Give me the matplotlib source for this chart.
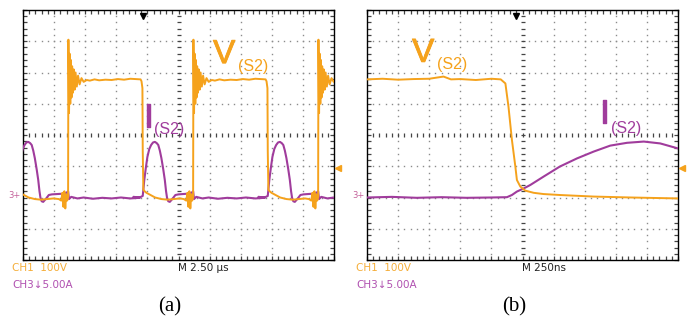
import numpy as np
import matplotlib
matplotlib.use("Agg")
import matplotlib.pyplot as plt
import matplotlib.patheffects as pe

# scope traces, units = screen divisions (x: 0..10, y: 0..8)
ORANGE = '#F5A21C'
PURPLE = '#A03C9C'

# panel (a): switching edges
a_rise = [1.45, 5.47, 9.49]
a_fall = [-0.22, 3.85, 7.87]

# V(S2) around a rising edge (ringing), relative to the edge
ring_dt = [0.0, 0.01, 0.03, 0.05, 0.07, 0.09, 0.11, 0.13, 0.15, 0.18, 0.21, 0.24, 0.28, 0.32, 0.37, 0.43, 0.5, 0.6]
ring_v = [2.0, 7.05, 4.7, 6.6, 5.0, 6.4, 5.2, 6.2, 5.35, 6.1, 5.45, 6.0, 5.55, 5.9, 5.62, 5.82, 5.7, 5.76]
# plateau, relative to rising edge
plat_dt = [0.7, 0.85, 1.0, 1.2, 1.4, 1.6, 1.8, 2.0, 2.2, 2.33]
plat_v = [5.74, 5.78, 5.75, 5.77, 5.76, 5.79, 5.77, 5.8, 5.79, 5.78]
# falling edge and low level, relative to falling edge
vfall_dt = [-0.04, -0.01, 0.0, 0.02, 0.06, 0.12, 0.25, 0.4, 0.6, 0.8, 1.0, 1.2]
vfall_v = [5.72, 5.5, 3.5, 2.25, 2.2, 2.15, 2.08, 2.0, 1.95, 1.93, 1.95, 1.97]
# ringing just before a rising edge
pre_dt = [-0.3, -0.22, -0.18, -0.15, -0.12, -0.09, -0.06, -0.03]
pre_v = [1.95, 1.9, 2.15, 1.7, 2.2, 1.65, 2.1, 1.9]

# I(S2) hump after a falling edge
hump_dt = [-0.3, -0.1, 0.0, 0.05, 0.1, 0.15, 0.21, 0.27, 0.33, 0.39, 0.45, 0.5, 0.55,
           0.6, 0.66, 0.71, 0.75, 0.78, 0.82, 0.87, 0.95, 1.05, 1.15]
hump_v = [2.02, 2.0, 2.05, 2.56, 2.95, 3.3, 3.55, 3.68, 3.76, 3.78, 3.74, 3.68, 3.5,
          3.26, 2.9, 2.56, 2.2, 2.0, 1.88, 1.86, 1.95, 2.08, 2.1]
# I(S2) baseline around a rising edge and through the on-time
ibase_dt = [-0.2, -0.05, 0.0, 0.03, 0.1, 0.3, 0.5, 0.8, 1.1, 1.4, 1.7, 2.0, 2.3]
ibase_v = [2.12, 2.15, 2.2, 1.95, 2.02, 1.97, 2.0, 1.96, 1.99, 1.97, 2.0, 1.97, 1.99]

# panel (b): turn-off edge, zoomed in
b_t = [0, 0.5, 1.0, 1.5, 2.0, 2.46, 2.7, 3.0, 3.5, 4.0, 4.3, 4.45, 4.55, 4.66, 4.77,
       4.82, 4.93, 5.09, 5.36, 5.68, 6.2, 7.29, 8.5, 10.0]
b_v = [5.78, 5.8, 5.77, 5.79, 5.8, 5.87, 5.78, 5.79, 5.76, 5.8, 5.78, 5.65, 4.9, 3.84, 2.99,
       2.56, 2.35, 2.22, 2.15, 2.11, 2.08, 2.03, 2.0, 1.97]
b_it = [0, 0.8, 1.6, 2.4, 3.2, 4.0, 4.5, 4.66, 4.82, 5.04, 5.25, 5.68, 6.2, 6.75, 7.29,
        7.82, 8.36, 8.9, 9.43, 10.0]
b_i = [2.0, 2.02, 1.99, 2.01, 1.99, 2.0, 2.01, 2.08, 2.19, 2.29, 2.4, 2.67, 2.99, 3.25, 3.47,
       3.66, 3.75, 3.79, 3.73, 3.57]


def trace_a_voltage():
    xs, ys = [], []
    for f, r in zip(a_fall, a_rise):
        xs += [f + d for d in vfall_dt]; ys += vfall_v
        xs += [r + d for d in pre_dt]; ys += pre_v
        xs += [r + d for d in ring_dt]; ys += ring_v
        xs += [r + d for d in plat_dt]; ys += plat_v
    return xs, ys


def trace_a_current():
    xs, ys = [], []
    for f, r in zip(a_fall, a_rise):
        xs += [f + d for d in hump_dt]; ys += hump_v
        xs += [r + d for d in ibase_dt]; ys += ibase_v
    return xs, ys


def scope_frame(ax, trig_x):
    ax.set_xlim(0, 10)
    ax.set_ylim(0, 8)
    ax.set_xticks([]); ax.set_yticks([])
    for s in ax.spines.values():
        s.set_linewidth(1.0)
        s.set_color('black')
    fine = np.arange(0, 10.01, 0.2)
    fine_y = np.arange(0, 8.01, 0.2)
    dot = dict(ls='none', marker='s', ms=1.0, mew=0, color='#8c8c8c', zorder=1)
    for y in range(1, 8):
        if y != 4:
            ax.plot(fine, [y] * len(fine), **dot)
    for x in range(1, 10):
        if x != 5:
            ax.plot([x] * len(fine_y), fine_y, **dot)
    tick = dict(ls='none', color='#444444', mew=0.9, zorder=1)
    ax.plot(fine, [4] * len(fine), marker='|', ms=3, **tick)
    ax.plot([5] * len(fine_y), fine_y, marker='_', ms=3, **tick)
    ax.plot(fine, [0.05] * len(fine), marker='|', ms=3, clip_on=False, **tick)
    ax.plot(fine, [7.95] * len(fine), marker='|', ms=3, clip_on=False, **tick)
    ax.plot([0.05] * len(fine_y), fine_y, marker='_', ms=3, clip_on=False, **tick)
    ax.plot([9.95] * len(fine_y), fine_y, marker='_', ms=3, clip_on=False, **tick)
    # trigger position / level markers
    ax.plot([trig_x], [7.8], marker='v', ms=5, color='black', clip_on=False, zorder=5)
    ax.plot([10.12], [2.96], marker='<', ms=4.5, color=ORANGE, clip_on=False, zorder=5)
    ax.text(-0.08, 2.08, '3+', color='#C4609A', fontsize=6, ha='right', va='center',
            family=['Liberation Sans Narrow', 'DejaVu Sans'])


fig = plt.figure(figsize=(6.88, 3.22), dpi=100)
W, H = 688, 322
ax_a = fig.add_axes([23 / W, 62 / H, 311 / W, 250 / H])
ax_b = fig.add_axes([367 / W, 62 / H, 311 / W, 250 / H])

scope_frame(ax_a, 3.86)
scope_frame(ax_b, 4.79)

vx, vy = trace_a_voltage()
ix, iy = trace_a_current()
ax_a.plot(ix, iy, color=PURPLE, lw=1.5, zorder=3)
ax_a.plot(vx, vy, color=ORANGE, lw=1.4, zorder=4)

ax_b.plot(b_it, b_i, color=PURPLE, lw=1.5, zorder=3)
ax_b.plot(b_t, b_v, color=ORANGE, lw=1.4, zorder=4)


def label(ax, x, y, s, color, size, stroke):
    t = ax.text(x, y, s, color=color, fontsize=size, va='baseline', ha='left',
                family=['Liberation Sans', 'DejaVu Sans'])
    if stroke:
        t.set_path_effects([pe.withStroke(linewidth=stroke, foreground=color)])


# panel a labels
label(ax_a, 6.11, 6.3, 'V', ORANGE, 24, 0.6)
label(ax_a, 6.91, 6.05, '(S2)', ORANGE, 11.5, 0)
label(ax_a, 3.88, 4.26, 'I', PURPLE, 24, 1.0)
label(ax_a, 4.21, 4.03, '(S2)', PURPLE, 11.5, 0)
# panel b labels
label(ax_b, 1.45, 6.34, 'V', ORANGE, 24, 0.6)
label(ax_b, 2.25, 6.1, '(S2)', ORANGE, 11.5, 0)
label(ax_b, 7.48, 4.38, 'I', PURPLE, 24, 1.0)
label(ax_b, 7.85, 4.06, '(S2)', PURPLE, 11.5, 0)

small = dict(family=['Liberation Sans Narrow', 'DejaVu Sans'], fontsize=7.5, va='center', ha='left')
for x0, tb in [(12, 'M 2.50 μs'), (356, 'M 250ns')]:
    fig.text(x0 / W, 1 - 268 / H, 'CH1  100V', color='#F5AE3A', **small)
    fig.text(x0 / W, 1 - 285 / H, 'CH3↓5.00A', color='#B050B0', **small)
    fig.text((x0 + 166) / W, 1 - 268 / H, tb, color='#222222', **small)

serif = dict(family=['Liberation Serif', 'DejaVu Serif'], fontsize=15, ha='center', va='center')
fig.text(170 / W, 1 - 307 / H, '(a)', **serif)
fig.text(514 / W, 1 - 307 / H, '(b)', **serif)

fig.savefig('out.png', dpi=100, facecolor='white')
